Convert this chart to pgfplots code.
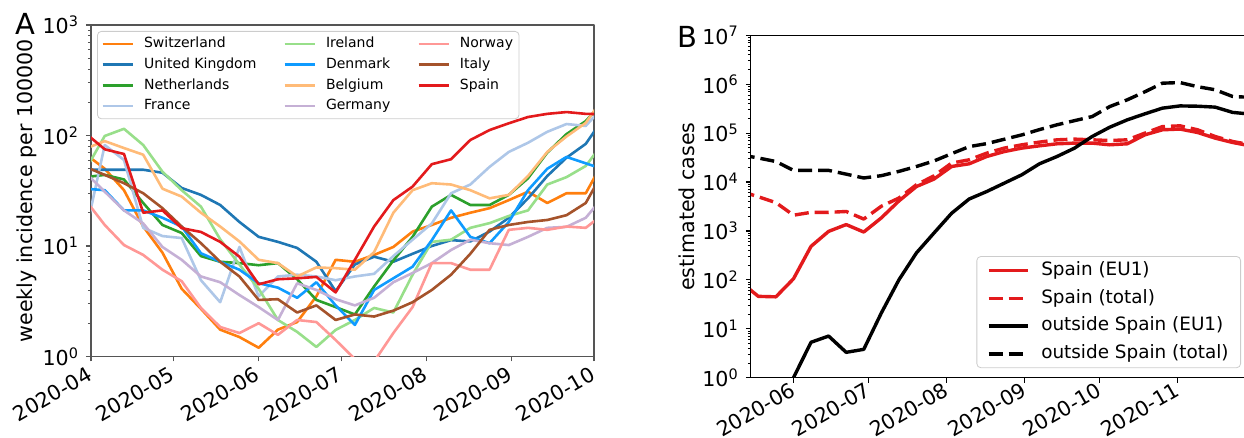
\documentclass[border=0pt]{standalone}
\usepackage{fontspec}
\setmainfont{DejaVu Sans}
\usepackage{pgfplots}
\usepackage{pgfplotstable}
\pgfplotsset{compat=1.18}

\definecolor{cCH}{HTML}{FF7F0E}
\definecolor{cUK}{HTML}{1F77B4}
\definecolor{cNL}{HTML}{2CA02C}
\definecolor{cFR}{HTML}{AEC7E8}
\definecolor{cIE}{HTML}{98DF8A}
\definecolor{cDK}{HTML}{0F9BFF}
\definecolor{cBE}{HTML}{FFBB78}
\definecolor{cDE}{HTML}{C5B0D5}
\definecolor{cNO}{HTML}{FF9896}
\definecolor{cIT}{HTML}{A5532B}
\definecolor{cES}{HTML}{E31A1C}
\definecolor{axgray}{HTML}{555555}
\definecolor{leggray}{HTML}{CCCCCC}

\newcommand\ticksize{\fontsize{10.3}{12}\selectfont}
\newcommand\legA{\fontsize{7}{8.4}\selectfont}
\newcommand\legB{\fontsize{9.2}{11}\selectfont}

% weekly incidence per 100000 (days counted from 2020-04-01)
\pgfplotstableread{
d    CH    UK    NL    FR    IE    DK    BE    DE    NO    IT    ES
-2   68    49    42    13    49    33    76    46    26    52    105
5    50    49    44    82    99    32    89    31    15.5  44    75
12   32    49    40    60    115   21    77    21    10.2  37    68
19   15    49    24.5  14.6  82    21    67    16    8.3   30    20
26   8.7   46    15.5  12.3  47    18    33    9.8   6.1   22    21
33   4.1   33.5  13.1  11.8  32    15    28    7.5   4.8   15    14.5
40   2.7   29    8.1   4.9   22.7  8.6   20    5.3   2.75  10.6  13.4
47   1.75  23.5  7.2   3.1   11.5  7.2   15    4.7   1.85  7.2   10.9
54   1.5   16.5  7.0   9.8   6.8   6.1   11    3.6   1.63  5.3   8.0
61   1.2   12.1  6.7   3.5   4.1   4.6   7.5   2.8   2.0   3.25  4.5
68   1.75  10.9  7.0   5.3   2.14  4.2   7.0   2.14  1.57  3.3   5.0
75   2.05  9.6   5.0   5.5   1.67  3.4   5.3   4.6   2.14  2.5   5.1
82   3.5   7.2   3.25  5.3   1.22  4.7   6.4   4.0   2.05  2.9   5.25
89   7.5   3.9   2.8   4.9   1.74  2.9   6.3   3.3   1.41  2.14  3.8
96   7.2   6.8   2.4   5.3   2.14  1.93  6.1   2.9   0.95  2.4   7.5
103  8.3   8.0   4.3   5.6   2.75  4.0   8.8   3.4   0.9   2.3   15
110  9.8   7.2   7.4   8.1   2.5   5.1   20    4.7   1.63  2.6   26
117  13.5  8.5   12.1  11.4  5.5   6.5   32    5.7   2.8   3.1   34.5
124  15.5  10    22.7  16    10.9  11.3  37    7.0   7.0   4.0   55
131  18    11.3  29    30    11.4  21    36    9.2   7.0   5.5   61
138  20    11    23.5  36    14.6  12.1  32    11.4  6.1   8.5   91
145  22    13.5  23.5  52    16.1  10.6  27    10.6  6.1   14    112
152  26    18    29    71    18.7  16.5  29    10.2  14    15.5  129
159  31    27    41    86    21    32    43    12.1  14.6  16.5  147
166  24.5  43    70    108   36    50    71    14.6  14    17.2  157
173  30    63    103   127   42    64    98    14.9  15    19    163
180  30    84    135   122   53    56    130   18    14.6  24.5  157
187  62    150   210   190   90    49    230   29    20    50    156
}\incidence

% estimated cases (days counted from 2020-04-01)
\pgfplotstableread{
d    esEU   esTot   outEU   outTot
40   90     6500    0.1     36000
47   46     5000    0.1     31000
54   45     3800    0.15    26300
61   105    2100    1.0     17300
68   485    2400    5.3     17300
75   980    2400    7.1     17300
82   1350   2500    3.3     14500
89   950    1750    3.8     12100
96   1850   3200    21      13500
103  4100   4700    100     16500
110  8100   8800    356     20800
117  11500  13400   910     27000
124  20800  24400   2300    38000
131  23600  28500   4500    53000
138  33300  39000   6400    61000
145  42000  49400   9500    75000
152  49400  57700   14100   92000
159  55000  65500   23600   118000
166  60500  73000   33300   148000
173  62500  75400   49400   180000
180  62500  73000   85300   218000
187  57700  70600   132000  349000
194  60500  73000   187000  480000
201  92300  100000  248000  700000
208  117000 136000  324000  1050000
215  121000 141000  360000  1080000
222  103000 117000  355000  890000
229  79000  85300   340000  770000
236  64300  67400   265000  560000
243  55000  58000   245000  540000
250  50000  53000   235000  530000
}\cases

\begin{document}
\begin{tikzpicture}[line join=round]
\useasboundingbox (0,0) rectangle (622pt,219pt);

% ---------- panel A ----------
\begin{axis}[
  at={(45.5pt,40.75pt)}, anchor=south west,
  scale only axis, width=251.5pt, height=165.75pt,
  xmin=0, xmax=183,
  ymode=log, ymin=1, ymax=1000,
  xtick={0,30,61,91,122,153,183},
  xticklabels={2020-04,2020-05,2020-06,2020-07,2020-08,2020-09,2020-10},
  ytick={1,10,100,1000},
  yticklabels={10\textsuperscript{0},10\textsuperscript{1},10\textsuperscript{2},10\textsuperscript{3}},
  minor ytick={2,3,4,5,6,7,8,9,20,30,40,50,60,70,80,90,200,300,400,500,600,700,800,900},
  tick align=outside, tick pos=left,
  major tick length=2.5pt, minor tick length=1.5pt,
  axis line style={color=axgray, line width=0.6pt},
  every tick/.style={color=axgray, line width=0.6pt},
  every minor tick/.style={color=axgray, line width=0.4pt},
  ticklabel style={font=\ticksize},
  xticklabel style={xshift=-2.5pt, yshift=-2pt, rotate=30, anchor=north east, inner sep=0pt},
  ylabel={weekly incidence per 100000},
  ylabel style={font=\ticksize},
  ylabel shift=-4pt,
  legend columns=3,
  legend cell align=left,
  legend image code/.code={\draw[#1] (0pt,0pt) -- (15pt,0pt);},
  legend style={at={(0.012,0.982)}, anchor=north west, font=\legA,
    draw=leggray, rounded corners=2pt, fill=white, fill opacity=0.8, text opacity=1,
    inner xsep=2pt, inner ysep=2pt,
    nodes={inner sep=1pt, text height=5.3pt, text depth=1.5pt},
    row sep=1.5pt,
    /tikz/every odd column/.append style={column sep=4pt},
    /tikz/every even column/.append style={column sep=12.5pt}},
  every axis plot/.append style={line width=1.3pt},
]
\addplot[cCH, forget plot] table[x=d, y=CH] {\incidence};
\addplot[cUK, forget plot] table[x=d, y=UK] {\incidence};
\addplot[cNL, forget plot] table[x=d, y=NL] {\incidence};
\addplot[cFR, forget plot] table[x=d, y=FR] {\incidence};
\addplot[cIE, forget plot] table[x=d, y=IE] {\incidence};
\addplot[cDK, forget plot] table[x=d, y=DK] {\incidence};
\addplot[cBE, forget plot] table[x=d, y=BE] {\incidence};
\addplot[cDE, forget plot] table[x=d, y=DE] {\incidence};
\addplot[cNO, forget plot] table[x=d, y=NO] {\incidence};
\addplot[cIT, forget plot] table[x=d, y=IT] {\incidence};
\addplot[cES, forget plot] table[x=d, y=ES] {\incidence};

\addlegendimage{cCH, line width=1.3pt}\addlegendentry{Switzerland}
\addlegendimage{cIE, line width=1.3pt}\addlegendentry{Ireland}
\addlegendimage{cNO, line width=1.3pt}\addlegendentry{Norway}
\addlegendimage{cUK, line width=1.3pt}\addlegendentry{United Kingdom}
\addlegendimage{cDK, line width=1.3pt}\addlegendentry{Denmark}
\addlegendimage{cIT, line width=1.3pt}\addlegendentry{Italy}
\addlegendimage{cNL, line width=1.3pt}\addlegendentry{Netherlands}
\addlegendimage{cBE, line width=1.3pt}\addlegendentry{Belgium}
\addlegendimage{cES, line width=1.3pt}\addlegendentry{Spain}
\addlegendimage{cFR, line width=1.3pt}\addlegendentry{France}
\addlegendimage{cDE, line width=1.3pt}\addlegendentry{Germany}
\end{axis}

% ---------- panel B ----------
\begin{axis}[
  at={(375.4pt,30.15pt)}, anchor=south west,
  scale only axis, width=251.5pt, height=171.2pt,
  xmin=44, xmax=244.4,
  ymode=log, ymin=1, ymax=1e7,
  xtick={61,91,122,153,183,214},
  xticklabels={2020-06,2020-07,2020-08,2020-09,2020-10,2020-11},
  ytick={1,10,100,1000,10000,100000,1000000,10000000},
  yticklabels={10\textsuperscript{0},10\textsuperscript{1},10\textsuperscript{2},10\textsuperscript{3},10\textsuperscript{4},10\textsuperscript{5},10\textsuperscript{6},10\textsuperscript{7}},
  minor ytick={2,3,4,5,6,7,8,9,20,30,40,50,60,70,80,90,200,300,400,500,600,700,800,900,
    2000,3000,4000,5000,6000,7000,8000,9000,20000,30000,40000,50000,60000,70000,80000,90000,
    200000,300000,400000,500000,600000,700000,800000,900000,
    2000000,3000000,4000000,5000000,6000000,7000000,8000000,9000000},
  tick align=outside, tick pos=left,
  major tick length=2.5pt, minor tick length=1.5pt,
  axis line style={black, line width=0.6pt},
  every tick/.style={black, line width=0.6pt},
  every minor tick/.style={black, line width=0.4pt},
  ticklabel style={font=\ticksize},
  xticklabel style={xshift=-2pt, yshift=0.8pt, rotate=30, anchor=north east, inner sep=0pt},
  ylabel={estimated cases},
  ylabel style={font=\ticksize},
  ylabel shift=-3pt,
  legend cell align=left,
  legend image code/.code={\draw[#1] (0pt,0pt) -- (19.5pt,0pt);},
  legend style={at={(0.9746,0.028)}, anchor=south east, font=\legB,
    draw=leggray, rounded corners=2pt, fill=white, fill opacity=0.8, text opacity=1,
    inner xsep=5pt, inner ysep=1.5pt,
    nodes={inner sep=1pt, text height=6.9pt, text depth=2pt},
    row sep=3pt,
    /tikz/every odd column/.append style={column sep=5pt}},
  every axis plot/.append style={line width=1.7pt},
]
\addplot[cES] table[x=d, y=esEU] {\cases};
\addlegendentry{Spain (EU1)}
\addplot[cES, dash pattern=on 7pt off 3pt] table[x=d, y=esTot] {\cases};
\addlegendentry{Spain (total)}
\addplot[black] table[x=d, y=outEU] {\cases};
\addlegendentry{outside Spain (EU1)}
\addplot[black, dash pattern=on 7pt off 3pt] table[x=d, y=outTot] {\cases};
\addlegendentry{outside Spain (total)}
\end{axis}

\node[font=\fontsize{14.5}{16}\selectfont] at (12.8pt,207pt) {A};
\node[font=\fontsize{14.5}{16}\selectfont] at (343.8pt,200.5pt) {B};
\end{tikzpicture}
\end{document}
